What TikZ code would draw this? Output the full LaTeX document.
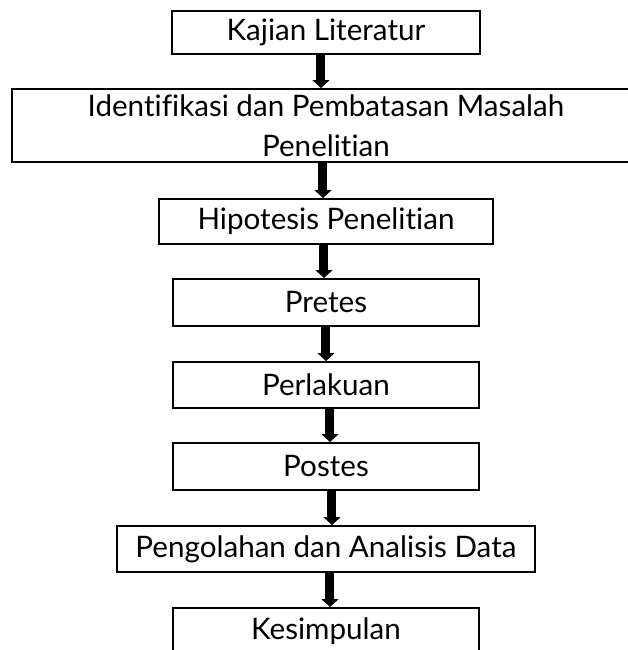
\documentclass[tikz,border=0pt]{standalone}
\usepackage{fontspec}
\setmainfont{Lato}[Ligatures=NoCommon]
\usetikzlibrary{arrows.meta}

\begin{document}
\begin{tikzpicture}[
        x=0.5pt, y=-0.5pt,
        stage/.style={rectangle, draw, line width=1pt, inner sep=0pt, align=center,
            font=\fontsize{14.8pt}{20pt}\selectfont},
        flow/.style={-{Triangle[width=8.5pt, length=4pt]}, line width=4.5pt}
    ]
        \useasboundingbox (0,0) rectangle (628,650);
        \clip (0,0) rectangle (628,650);

        % Stages
        \node[stage, minimum width=154pt, minimum height=21.5pt] (kajian) at (326,32.5) {Kajian Literatur};
        \node[stage, minimum width=314pt, minimum height=36.5pt] (identifikasi) at (326,125.5) {Identifikasi dan Pembatasan Masalah\\Penelitian};
        \node[stage, minimum width=167pt, minimum height=22.5pt] (hipotesis) at (326,221.5) {Hipotesis Penelitian};
        \node[stage, minimum width=153pt, minimum height=23.5pt] (pretes) at (326,302.5) {Pretes};
        \node[stage, minimum width=153pt, minimum height=23pt] (perlakuan) at (326,385) {Perlakuan};
        \node[stage, minimum width=153pt, minimum height=23.5pt] (postes) at (326,466.5) {Postes};
        \node[stage, minimum width=209pt, minimum height=23pt] (pengolahan) at (326,549) {Pengolahan dan Analisis Data};
        \node[stage, minimum width=153pt, minimum height=23.5pt] (kesimpulan) at (326,631.5) {Kesimpulan};

        % Arrows
        \draw[flow] ([xshift=-2.5pt]kajian.south) -- ([xshift=-2.5pt]identifikasi.north);
        \draw[flow] ([xshift=-1.5pt]identifikasi.south) -- ([xshift=-1.5pt]hipotesis.north);
        \draw[flow] ([xshift=-1pt]hipotesis.south) -- ([xshift=-1pt]pretes.north);
        \draw[flow] (pretes) -- (perlakuan);
        \draw[flow] ([xshift=2pt]perlakuan.south) -- ([xshift=2pt]postes.north);
        \draw[flow] ([xshift=3pt]postes.south) -- ([xshift=3pt]pengolahan.north);
        \draw[flow] ([xshift=2pt]pengolahan.south) -- ([xshift=2pt]kesimpulan.north);
    \end{tikzpicture}
\end{document}
